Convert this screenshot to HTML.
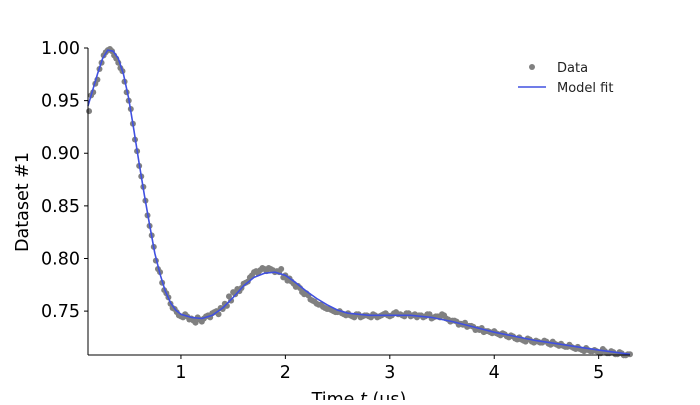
<!DOCTYPE html>
<html><head><meta charset="utf-8"><style>
body{margin:0;background:#fff;}
svg text{font-family:"DejaVu Sans","Liberation Sans",sans-serif;}
</style></head><body>
<svg id="chart" width="700" height="400" viewBox="0 0 700 400" xmlns="http://www.w3.org/2000/svg">
<g id="marks"></g>
<g id="axes"></g>
<g>
<circle cx="532" cy="67" r="3" fill="#808080"/>
<text x="557" y="72" font-size="13" fill="#222">Data</text>
<line x1="518" y1="87" x2="546" y2="87" stroke="#4050e0" stroke-width="1.6"/>
<text x="557" y="92" font-size="13" fill="#222">Model fit</text>
</g>
<text x="359" y="405" font-size="17.5" text-anchor="middle" fill="#000">Time <tspan font-style="italic">t</tspan> (µs)</text>
<text transform="translate(28,202) rotate(-90)" font-size="17.5" text-anchor="middle" fill="#000">Dataset #1</text>
</svg>
<script>
const dataStart = 0.12, dataStep = 0.04;
const dataY = [.940,.958,.970,.986,.996,.999,.993,.986,.978,.958,.942,.913,.888,
.868,.841,.822,.798,.787,.770,.763,.753,.749,.745,.747,.742,
.741,.744,.740,.745,.744,.749,.747,.752,.755,.760,.766,.769,
.776,.778,.784,.788,.789,.790,.791,.789,.788,.790,.784,.781,
.776,.774,.768,.767,.761,.759,.756,.754,.752,.751,.749,.750,
.747,.748,.745,.747,.744,.746,.745,.747,.744,.746,.748,.745,
.748,.747,.746,.748,.745,.747,.746,.744,.747,.743,.745,.744,
.746,.742,.741,.740,.738,.739,.736,.735,.733,.734,.731,.730,
.731,.728,.729,.726,.727,.724,.725,.722,.724,.721,.722,.720,
.722,.719,.721,.718,.719,.716,.718,.715,.716,.713,.715,.712,
.713,.711,.714,.710,.712,.709,.711,.708,.709];
const data2Start = 0.14;
const dataY2 = [.955,.966,.980,.993,.998,.997,.990,.981,.968,.950,.928,.902,
.878,.855,.831,.811,.790,.777,.767,.757,.752,.746,.744,.745,
.743,.739,.742,.743,.746,.748,.750,.753,.757,.764,.768,.771,
.772,.777,.782,.787,.786,.791,.788,.790,.787,.787,.782,.779,
.778,.773,.772,.766,.765,.760,.757,.756,.753,.752,.750,.749,
.748,.746,.746,.744,.747,.745,.746,.744,.746,.745,.747,.746,
.746,.749,.747,.745,.748,.746,.744,.746,.745,.747,.744,.745,
.747,.743,.740,.741,.737,.737,.735,.736,.732,.732,.730,.731,
.729,.729,.727,.728,.725,.726,.723,.723,.721,.723,.720,.721,
.720,.721,.718,.719,.717,.717,.716,.716,.714,.714,.712,.713,
.712,.712,.710,.712,.710,.711,.709,.710,.708,.709];
const fitX = [0.11,0.2,0.25,0.3,0.35,0.4,0.45,0.5,0.55,0.6,0.65,0.7,0.75,0.8,0.85,0.9,0.95,1.0,1.1,1.2,1.3,1.4,1.5,1.6,1.7,1.8,1.9,2.0,2.1,2.2,2.3,2.4,2.5,2.6,2.8,3.0,3.2,3.4,3.6,3.8,4.0,4.2,4.4,4.6,4.8,5.0,5.3];
const fitY = [.945,.975,.99,.998,.997,.99,.975,.952,.922,.890,.86,.832,.805,.785,.769,.758,.751,.747,.744,.743,.746,.753,.763,.774,.782,.786,.787,.784,.777,.769,.762,.756,.751,.748,.746,.746,.746,.744,.740,.735,.730,.726,.722,.719,.716,.713,.709];
const xTicks = [1,2,3,4,5];
const yTicks = [0.75,0.80,0.85,0.90,0.95,1.00];

const X0=88, X1=630, Y0=355, Y1=48;
const xMin=0.11, xMax=5.30, yMin=0.7083, yMax=1.0;
function sx(v){return X0+(v-xMin)/(xMax-xMin)*(X1-X0);}
function sy(v){return Y0-(v-yMin)/(yMax-yMin)*(Y0-Y1);}
const NS="http://www.w3.org/2000/svg";
const marks=document.getElementById('marks'), axes=document.getElementById('axes');
function mk(tag,attrs,parent){const e=document.createElementNS(NS,tag);for(const k in attrs)e.setAttribute(k,attrs[k]);parent.appendChild(e);return e;}

dataY.forEach((v,i)=>{
  const c=mk('circle',{cx:sx(dataStart+i*dataStep),cy:sy(v),r:3,fill:'#808080'},marks);
  
  
});
dataY2.forEach((v,i)=>{
  const c=mk('circle',{cx:sx(data2Start+i*dataStep),cy:sy(v),r:3,fill:'#808080'},marks);
  
  
});
const pts=fitX.map((x,i)=>sx(x).toFixed(1)+','+sy(fitY[i]).toFixed(1)).join(' ');
const fl=mk('polyline',{points:pts,fill:'none',stroke:'#4050e0','stroke-width':1.6,'stroke-linejoin':'round'},marks);



const ls=mk('line',{x1:X0,y1:Y1,x2:X0,y2:Y0,stroke:'#000','stroke-width':1},axes);


const bs=mk('line',{x1:X0,y1:Y0,x2:X1,y2:Y0,stroke:'#000','stroke-width':1},axes);


xTicks.forEach(t=>{
  const x=sx(t);
  const l=mk('line',{x1:x,y1:Y0,x2:x,y2:Y0+4,stroke:'#000'},axes);
  
  
  const tx=mk('text',{x:x,y:Y0+23,'font-size':17.5,'text-anchor':'middle',fill:'#000'},axes);
  tx.textContent=t;
  
  
});
yTicks.forEach(t=>{
  const y=sy(t);
  const l=mk('line',{x1:X0-4,y1:y,x2:X0,y2:y,stroke:'#000'},axes);
  
  
  const tx=mk('text',{x:X0-8,y:y+6,'font-size':17.5,'text-anchor':'end',fill:'#000'},axes);
  tx.textContent=t.toFixed(2);
  
  
});
</script>
</body></html>
